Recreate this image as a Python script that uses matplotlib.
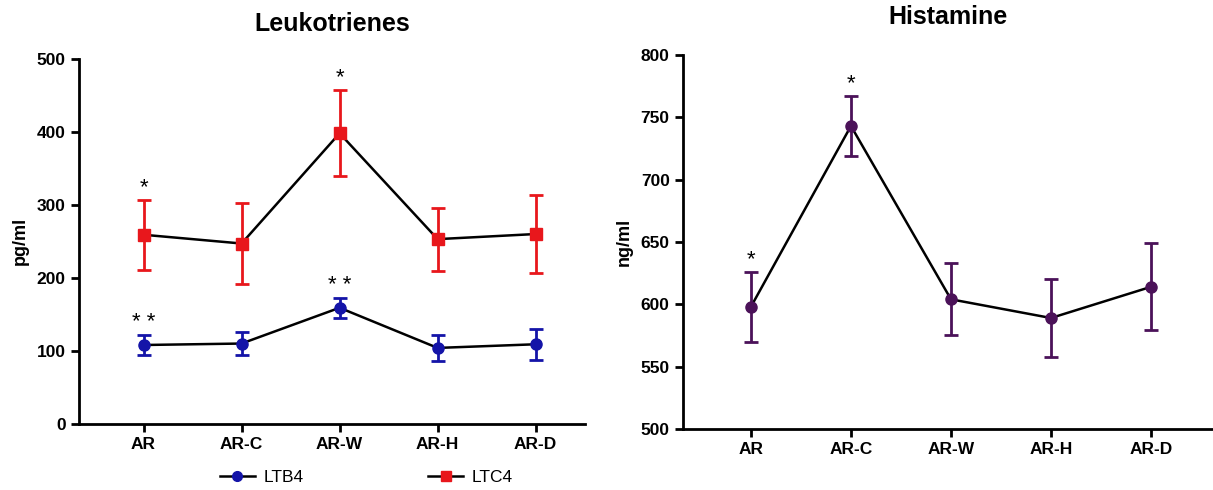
import matplotlib
matplotlib.use('Agg')
import numpy as np
import matplotlib.pyplot as plt
from matplotlib.lines import Line2D

plt.rcParams['font.family'] = ['Liberation Sans', 'DejaVu Sans']

groups = ['AR', 'AR-C', 'AR-W', 'AR-H', 'AR-D']

ltb4 = [108, 110, 159, 104, 109]
ltb4_err = [14, 16, 14, 18, 21]
ltb4_stars = ['* *', '', '* *', '', '']

ltc4 = [259, 247, 398, 253, 260]
ltc4_err = [48, 55, 59, 43, 54]
ltc4_stars = ['*', '', '*', '', '']

histamine = [598, 743, 604, 589, 614]
histamine_err = [28, 24, 29, 31, 35]
histamine_stars = ['*', '*', '', '', '']

RED = '#e8171c'
BLUE = '#1414a8'
PURPLE = '#4b1259'


def style_axes(ax):
    for side in ['top', 'right']:
        ax.spines[side].set_visible(False)
    for side in ['left', 'bottom']:
        ax.spines[side].set_linewidth(2)
    ax.tick_params(width=2, length=6, labelsize=12.5)
    for lab in ax.get_xticklabels() + ax.get_yticklabels():
        lab.set_fontweight('bold')


def draw_series(ax, vals, errs, stars, color, marker, ms):
    x = np.arange(len(vals))
    ax.plot(x, vals, color='black', lw=1.8, zorder=2)
    ax.errorbar(x, vals, yerr=errs, fmt=marker, color=color, ms=ms,
                ecolor=color, elinewidth=2, capsize=5, capthick=2, zorder=3)
    span = ax.get_ylim()[1] - ax.get_ylim()[0]
    for xi, v, e, s in zip(x, vals, errs, stars):
        if s:
            ax.text(xi, v + e + 0.005 * span, s,
                    ha='center', va='bottom', fontsize=16)


fig = plt.figure(figsize=(12.13, 4.9), dpi=100)

# left panel: leukotrienes
ax1 = fig.add_axes([0.065, 0.135, 0.417, 0.745])
ax1.set_ylim(0, 500)
ax1.set_xlim(-0.66, 4.5)
draw_series(ax1, ltc4, ltc4_err, ltc4_stars, RED, 's', 8)
draw_series(ax1, ltb4, ltb4_err, ltb4_stars, BLUE, 'o', 8)
ax1.set_xticks(range(len(groups)))
ax1.set_xticklabels(groups)
ax1.set_yticks(range(0, 501, 100))
ax1.set_ylabel('pg/ml', fontsize=13, fontweight='bold', labelpad=6)
ax1.set_title('Leukotrienes', fontsize=18, fontweight='bold', pad=20)
style_axes(ax1)

handles = [Line2D([], [], color='black', lw=1.8, marker='o', mfc=BLUE, mec=BLUE, ms=7),
           Line2D([], [], color='black', lw=1.8, marker='s', mfc=RED, mec=RED, ms=7)]
fig.legend(handles, ['LTB4', 'LTC4'], loc='center', bbox_to_anchor=(0.302, 0.025),
           ncol=2, frameon=False, fontsize=12.5, columnspacing=7.2,
           handlelength=2.0, handletextpad=0.5)

# right panel: histamine
ax2 = fig.add_axes([0.563, 0.1245, 0.437, 0.7635])
ax2.set_ylim(500, 800)
ax2.set_xlim(-0.68, 4.62)
draw_series(ax2, histamine, histamine_err, histamine_stars, PURPLE, 'o', 8)
ax2.set_xticks(range(len(groups)))
ax2.set_xticklabels(groups)
ax2.set_yticks(range(500, 801, 50))
ax2.set_ylabel('ng/ml', fontsize=13, fontweight='bold', labelpad=6)
ax2.set_title('Histamine', fontsize=18, fontweight='bold', pad=22)
style_axes(ax2)

fig.savefig('out.png', dpi=100)
